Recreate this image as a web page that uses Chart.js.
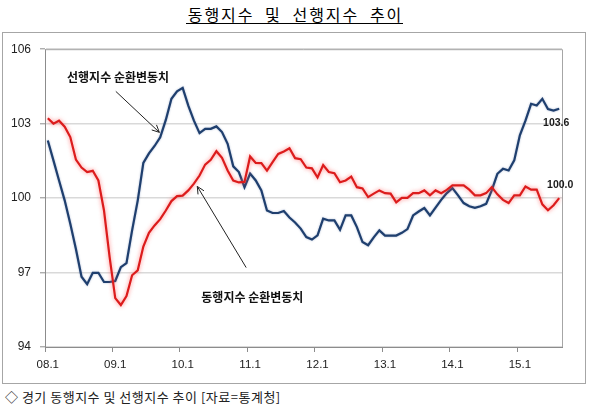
<!DOCTYPE html>
<html><head><meta charset="utf-8">
<script src="https://cdn.jsdelivr.net/npm/chart.js@4.4.1/dist/chart.umd.min.js"></script>
<style>
html,body{margin:0;padding:0;background:#fff;width:589px;height:408px;overflow:hidden;}
#title{position:absolute;left:0;top:2px;width:589px;text-align:center;font-family:"Noto Sans CJK KR";font-size:16px;color:#000;}
#title span{display:inline-block;line-height:18px;border-bottom:1px solid #000;letter-spacing:2px;word-spacing:5px;padding-left:2px;}
#box{position:absolute;left:2px;top:32px;width:582px;height:350px;border:1px solid #a6a6a6;}
#cap{position:absolute;left:5px;top:388px;font-family:"Noto Sans CJK KR";font-size:13px;letter-spacing:0.5px;color:#222;line-height:17px;white-space:nowrap;}
</style></head>
<body>
<div id="title"><span>동행지수 및 선행지수 추이</span></div>
<div id="box"><canvas id="c" width="582" height="350"></canvas></div>
<div id="cap">◇ 경기 동행지수 및 선행지수 추이 [자료=통계청]</div>
<script>
const years = ['08','09','10','11','12','13','14','15'];
const monthCount = 92;
const coincident = [103.22,103.0,103.12,102.88,102.46,101.55,101.23,101.05,101.1,100.71,99.5,97.62,
95.97,95.69,96.05,96.89,97.09,98.05,98.6,98.9,99.15,99.5,99.88,100.08,
100.1,100.31,100.58,100.91,101.35,101.54,101.89,101.62,101.11,100.71,100.63,100.65,
101.68,101.42,101.41,101.11,101.45,101.78,101.88,102.01,101.61,101.57,101.23,101.2,
100.83,101.33,101.05,101.0,100.64,100.71,100.87,100.44,100.39,100.04,100.18,100.31,
100.2,100.18,99.83,100.01,100.01,100.2,100.2,100.31,100.11,100.31,100.2,100.33,
100.51,100.51,100.51,100.34,100.11,100.11,100.2,100.44,100.15,99.93,99.8,100.11,
100.11,100.47,100.34,100.34,99.75,99.51,99.71,100.0];
const leading = [102.32,101.52,100.71,99.91,98.97,97.95,96.83,96.53,96.99,96.99,96.62,96.62,
96.66,97.22,97.38,98.7,99.9,101.42,101.8,102.1,102.45,103.15,104.0,104.3,
104.44,103.73,103.12,102.62,102.79,102.79,102.89,102.66,102.19,101.28,101.05,100.44,
100.99,100.71,100.31,99.5,99.4,99.4,99.48,99.22,99.02,98.77,98.43,98.33,
98.5,99.17,99.1,99.1,98.72,99.3,99.3,98.83,98.23,98.1,98.42,98.7,
98.49,98.49,98.49,98.6,98.75,99.3,99.46,99.6,99.3,99.62,99.93,100.2,
100.4,100.11,99.8,99.67,99.61,99.67,99.77,100.31,100.98,101.18,101.11,101.52,
102.53,103.12,103.8,103.73,104.0,103.59,103.53,103.6];
const yTicks = [94,97,100,103,106];
const seriesNames = ['동행지수 순환변동치','선행지수 순환변동치'];
const endLabels = ['100.0','103.6'];

const categories = [];
for (let i = 0; i < monthCount; i++) {
  categories.push(years[Math.floor(i/12)] + '.' + (i%12 + 1));
}

// annotation anchors in data units [category index, value]
const notes = [
  {text: seriesNames[1], at:[12.5,104.87], from:[12.1,104.3], to:[19.85,102.65]},
  {text: seriesNames[0], at:[36.4,96.0], from:[35.3,97.2], to:[26.6,100.47]}
];

const glow = {
  id:'glow',
  beforeDatasetDraw(chart, args){
    const ctx = chart.ctx; ctx.save();
    if (args.index === 0) { ctx.shadowColor='rgba(255,90,90,0.75)'; ctx.shadowBlur=4; }
    else { ctx.shadowColor='rgba(60,90,150,0.45)'; ctx.shadowBlur=2; }
  },
  afterDatasetDraw(chart){ chart.ctx.restore(); }
};

const frame = {
  id:'frame',
  beforeDatasetsDraw(chart){
    const a = chart.chartArea, ctx = chart.ctx;
    ctx.save(); ctx.strokeStyle='#a6a6a6'; ctx.lineWidth=1;
    ctx.beginPath();
    ctx.moveTo(a.left, a.top+0.5); ctx.lineTo(a.right+0.5, a.top+0.5); ctx.lineTo(a.right+0.5, a.bottom);
    ctx.stroke(); ctx.restore();
  },
  afterDraw(chart){
    const ctx = chart.ctx, xs = chart.scales.x, ys = chart.scales.y;
    const px = p => [xs.getPixelForValue(p[0]), ys.getPixelForValue(p[1])];
    ctx.save();
    // end labels
    ctx.font = 'bold 10.5px "Liberation Sans"';
    ctx.fillStyle = '#1a1a1a'; ctx.textAlign='center'; ctx.textBaseline='middle';
    const last = monthCount-1;
    ctx.fillText(endLabels[1], xs.getPixelForValue(last)-3, ys.getPixelForValue(leading[last])+14);
    ctx.fillText(endLabels[0], xs.getPixelForValue(last)+1, ys.getPixelForValue(coincident[last])-12.5);
    // annotations
    ctx.font = 'bold 12px "Noto Sans CJK KR"';
    ctx.fillStyle = '#111';
    notes.forEach(n => {
      const [tx,ty] = px(n.at);
      ctx.fillText(n.text, tx, ty);
      const [x1,y1] = px(n.from), [x2,y2] = px(n.to);
      ctx.strokeStyle = '#222'; ctx.lineWidth = 1;
      ctx.beginPath(); ctx.moveTo(x1,y1); ctx.lineTo(x2,y2); ctx.stroke();
      const ang = Math.atan2(y2-y1, x2-x1), L = 8, w = 0.45;
      ctx.beginPath();
      ctx.moveTo(x2 - L*Math.cos(ang-w), y2 - L*Math.sin(ang-w));
      ctx.lineTo(x2,y2);
      ctx.lineTo(x2 - L*Math.cos(ang+w), y2 - L*Math.sin(ang+w));
      ctx.stroke();
    });
    ctx.restore();
  }
};

new Chart(document.getElementById('c'), {
  type:'line',
  data:{
    labels: categories,
    datasets:[
      {label:seriesNames[0], data:coincident, borderColor:'#dc1c1c', borderWidth:2.2, pointRadius:0, tension:0, fill:false},
      {label:seriesNames[1], data:leading, borderColor:'#1f3f6e', borderWidth:2.2, pointRadius:0, tension:0, fill:false}
    ]
  },
  options:{
    responsive:false, animation:false, devicePixelRatio:1,
    layout:{padding:{top:15, right:23, left:0, bottom:0}},
    plugins:{legend:{display:false}, tooltip:{enabled:false}},
    scales:{
      x:{
        offset:true,
        afterFit(s){ s.height = 36; },
        grid:{offset:true, drawOnChartArea:false, drawTicks:true, tickLength:5,
              color: c => (c.index % 12 === 0 ? '#8c8c8c' : 'rgba(0,0,0,0)')},
        border:{color:'#8c8c8c'},
        ticks:{autoSkip:false, maxRotation:0, minRotation:0, padding:6, color:'#222',
               font:{family:'Liberation Sans', size:11.5},
               callback:(v,i) => (i % 12 === 0 ? categories[i] : '')}
      },
      y:{
        min:94, max:106,
        afterFit(s){ s.width = 42; },
        afterBuildTicks(s){ s.ticks = yTicks.map(v => ({value:v})); },
        grid:{color:'#d9d9d9', lineWidth:1.6, tickLength:5, tickColor:'#8c8c8c', tickWidth:1},
        border:{color:'#8c8c8c'},
        ticks:{padding:9, color:'#222', font:{family:'Liberation Sans', size:12}}
      }
    }
  },
  plugins:[glow, frame]
});
</script>
</body></html>
